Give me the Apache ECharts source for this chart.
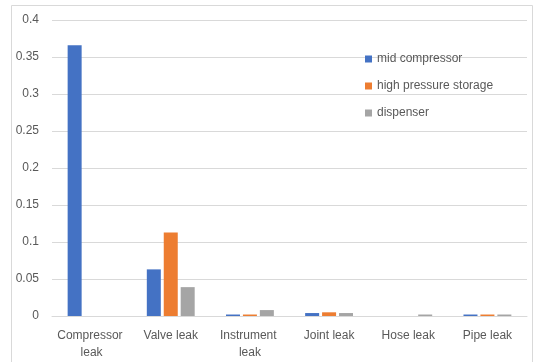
<!DOCTYPE html>
<html>
<head>
<meta charset="utf-8">
<script src="https://cdn.jsdelivr.net/npm/echarts@6/dist/echarts.min.js"></script>
<style>
  html, body { margin: 0; padding: 0; background: #fff; }
  #chart { width: 535px; height: 362px; }
</style>
</head>
<body>
<div id="chart"></div>
<script>
// Leak categories along the x axis
const categories = ['Compressor leak', 'Valve leak', 'Instrument leak', 'Joint leak', 'Hose leak', 'Pipe leak'];

// Values per equipment group
const midCompressor = [0.366, 0.063, 0.002, 0.004, 0, 0.002];
const highPressureStorage = [0, 0.113, 0.002, 0.005, 0, 0.002];
const dispenser = [0, 0.039, 0.008, 0.004, 0.002, 0.002];

const seriesNames = ['mid compressor', 'high pressure storage', 'dispenser'];
const yTicks = { min: 0, max: 0.4, interval: 0.05 };

const textColor = '#595959';
const font = 'Liberation Sans, Arial, sans-serif';

const chart = echarts.init(document.getElementById('chart'));

function barSeries(name, data, color) {
  return {
    name: name,
    type: 'bar',
    data: data,
    barWidth: 14,
    barGap: '21%',
    itemStyle: { color: color },
    emphasis: { disabled: true }
  };
}

chart.setOption({
  animation: false,
  textStyle: { fontFamily: font },
  graphic: [{
    type: 'rect',
    shape: { x: 11.5, y: 5.5, width: 521, height: 400 },
    style: { fill: 'none', stroke: '#d9d9d9', lineWidth: 1 },
    silent: true,
    z: -1
  }],
  grid: { left: 52, right: 8, top: 20, bottom: 46 },
  legend: {
    orient: 'vertical',
    left: 360,
    top: 47,
    icon: 'rect',
    itemWidth: 7,
    itemHeight: 7,
    itemGap: 13,
    textStyle: { color: textColor, fontSize: 12, fontFamily: font, lineHeight: 14 },
    data: seriesNames
  },
  xAxis: {
    type: 'category',
    data: categories,
    axisLine: { lineStyle: { color: '#d9d9d9', width: 1 } },
    axisTick: { show: false },
    axisLabel: {
      interval: 0,
      color: textColor,
      fontSize: 12,
      fontFamily: font,
      margin: 11,
      width: 74,
      overflow: 'break',
      lineHeight: 17
    }
  },
  yAxis: {
    type: 'value',
    min: yTicks.min,
    max: yTicks.max,
    interval: yTicks.interval,
    axisLine: { show: false },
    axisTick: { show: false },
    splitLine: { lineStyle: { color: '#d9d9d9', width: 1 } },
    axisLabel: {
      color: textColor,
      fontSize: 12,
      fontFamily: font,
      margin: 13,
      formatter: v => String(parseFloat(v.toFixed(2)))
    }
  },
  series: [
    barSeries(seriesNames[0], midCompressor, '#4472C4'),
    barSeries(seriesNames[1], highPressureStorage, '#ED7D31'),
    barSeries(seriesNames[2], dispenser, '#A5A5A5')
  ]
});
</script>
</body>
</html>
